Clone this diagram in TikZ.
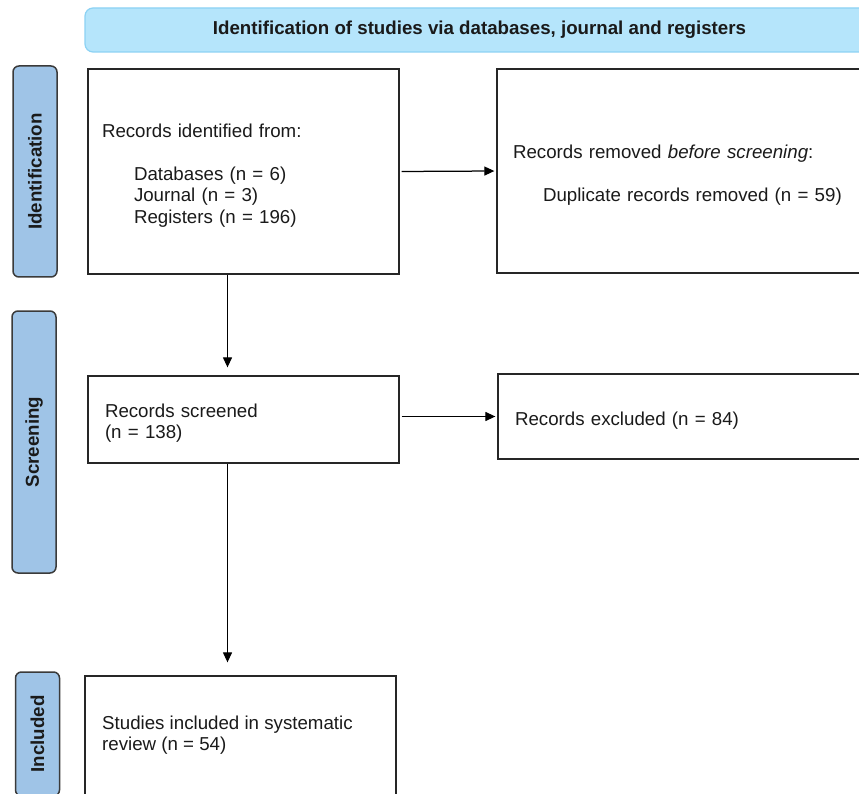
\documentclass[tikz,border=0pt]{standalone}
\usepackage{fontspec}
\setmainfont{Liberation Sans}
\usetikzlibrary{arrows.meta}
\definecolor{hdrfill}{HTML}{B5E5FB}
\definecolor{hdrdraw}{HTML}{8CD2F4}
\definecolor{barfill}{HTML}{9FC4E7}
\definecolor{bardraw}{HTML}{3A3A3A}
\definecolor{boxdraw}{HTML}{262626}
\definecolor{txt}{HTML}{1A1A1A}
\begin{document}
\begin{tikzpicture}[x=1pt,y=-1pt,
  bodyfont/.style={font=\fontsize{18.7}{21.5}\selectfont},
  box/.style={draw=boxdraw,line width=1.3pt,fill=white,rectangle,bodyfont,text=txt,align=left,inner ysep=0pt,
    execute at begin node={\rule{0pt}{21pt}}},
  phase/.style={draw=bardraw,line width=1.5pt,fill=barfill,rounded corners=6pt,rotate=90,
    font=\fontsize{18.7}{21.5}\selectfont\bfseries,text=txt,inner sep=0pt,minimum height=44pt},
  header/.style={draw=hdrdraw,line width=1.2pt,fill=hdrfill,rounded corners=8pt,
    font=\fontsize{18.7}{21.5}\selectfont\bfseries,text=txt,inner sep=0pt,minimum height=44pt,minimum width=789pt},
  arr/.style={-{Triangle[length=10pt,width=9pt]},line width=1.25pt,draw=black}]
\clip (0,0) rectangle (859,794);
\fill[white] (0,0) rectangle (859,794);

\node[header] (hdr) at (479.5,30) {Identification of studies via databases, journal and registers};

\node[phase,minimum width=211pt] (pid) at (35,171.5) {Identification};
\node[phase,minimum width=262pt] (pscr) at (34,442) {Screening};
\node[phase,minimum width=124pt] (pinc) at (37.5,734) {Included};

\node[box,minimum width=311pt,minimum height=205pt,inner xsep=14pt,text width=283pt] (b1) at (243.5,171.5)
 {Records identified from:\\[21.5pt]
  \hspace*{32pt}Databases (n = 6)\\
  \hspace*{32pt}Journal (n = 3)\\
  \hspace*{32pt}Registers (n = 196)};

\node[box,minimum width=378pt,minimum height=204pt,inner xsep=16pt,text width=346pt] (b2) at (686,171)
 {Records removed \textit{before screening}:\\[21.5pt]
  \hspace*{30pt}Duplicate records removed (n = 59)};

\node[box,minimum width=311pt,minimum height=87pt,inner xsep=17pt,text width=277pt] (b3) at (243.5,419.5)
 {Records screened\\(n = 138)};

\node[box,minimum width=377pt,minimum height=85pt,inner xsep=17pt,text width=343pt] (b4) at (686.5,416.5)
 {Records excluded (n = 84)};

\node[box,minimum width=311pt,minimum height=134pt] (b5) at (240.5,743) {};
\node[bodyfont,text=txt,align=left,anchor=west,inner sep=0pt] (t5) at (102,735)
 {Studies included in systematic\\review (n = 54)};

\coordinate (ax) at (227.5,0);
\draw[arr,shorten <=2pt,shorten >=2pt] (b1.east) -- (b2.west);
\draw[arr,shorten <=2pt,shorten >=2pt] (b3.east |- b4.west) -- (b4.west);
\draw[arr,shorten >=8pt] (b1.south -| ax) -- (b3.north -| ax);
\draw[arr,shorten >=13pt] (b3.south -| ax) -- (b5.north -| ax);
\end{tikzpicture}
\end{document}
